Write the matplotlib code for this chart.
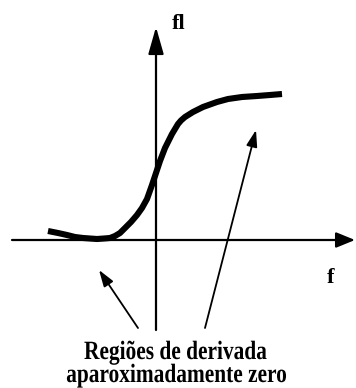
import numpy as np
import matplotlib
matplotlib.use("Agg")
import matplotlib.pyplot as plt
from matplotlib import patheffects
from matplotlib.transforms import Affine2D

# curve f -> fl (origin where the axes cross)
f_vals = [-108, -98, -89, -81, -73, -66, -59, -52, -46, -41, -36, -31, -25, -19, -14, -9, -4,
          0, 4, 9, 13, 16, 19, 22, 25, 29, 33, 37, 42, 47, 54, 61, 72, 86, 101, 114, 126]
fl_vals = [9, 7, 5, 3, 2, 1.5, 1, 1.5, 2, 4, 7, 12, 18, 25, 32, 41, 55,
           67, 79, 92, 100, 106, 111, 116, 119.5, 123, 125.5, 128, 130.5, 133, 135.5, 138, 141, 143, 144, 145, 146]

x_axis = [-144, 199]
y_axis = [-90, 213]

# pointers: (tail, tip)
pointers = [((-18, -88), (-57, -30)),
            ((49, -88), (100, 110))]

label_y = "fl"
label_x = "f"
caption = ["Regiões de derivada", "aparoximadamente zero"]


class Squeeze(patheffects.AbstractPathEffect):
    """narrow the glyphs horizontally around the text anchor"""
    def __init__(self, text, sx):
        super().__init__()
        self.text = text
        self.sx = sx

    def draw_path(self, renderer, gc, tpath, affine, rgbFace=None):
        cx = self.text.get_transform().transform(self.text.get_position())[0]
        sq = Affine2D().translate(-cx, 0).scale(self.sx, 1).translate(cx, 0)
        renderer.draw_path(gc, tpath, affine + sq, rgbFace)


fig = plt.figure(figsize=(3.56, 3.88), dpi=100)
ax = fig.add_axes([0, 0, 1, 1])
ax.set_xlim(-156, 200)
ax.set_ylim(-148, 240)
ax.axis('off')

# axes with arrow heads
ax.annotate('', xy=(x_axis[1], 0), xytext=(x_axis[0], 0),
            arrowprops=dict(arrowstyle='-|>,head_length=1.15,head_width=0.47',
                            mutation_scale=10, lw=1.6, color='black',
                            shrinkA=0, shrinkB=0))
ax.annotate('', xy=(0, y_axis[1]), xytext=(0, y_axis[0]),
            arrowprops=dict(arrowstyle='-|>,head_length=1.65,head_width=0.47',
                            mutation_scale=10, lw=1.6, color='black',
                            shrinkA=0, shrinkB=0))

ax.plot(f_vals, fl_vals, color='black', lw=4.4, solid_capstyle='butt',
        solid_joinstyle='round')

for tail, tip in pointers:
    ax.annotate('', xy=tip, xytext=tail,
                arrowprops=dict(arrowstyle='-|>,head_length=1.0,head_width=0.33',
                                mutation_scale=10, lw=1.3, color='black',
                                shrinkA=0, shrinkB=0))

font = dict(family='Liberation Serif', weight='bold', color='black')
ax.text(16, 211, label_y, fontsize=16, ha='left', va='baseline', **font)
ax.text(175, -43, label_x, fontsize=16, ha='center', va='baseline', **font)

for i, (xc, yb) in enumerate([(19.5, -119), (20.5, -142)]):
    t = ax.text(xc, yb, caption[i], fontsize=19, ha='center', va='baseline', **font)
    t.set_path_effects([Squeeze(t, 0.81)])

fig.savefig("out.png", dpi=100)
